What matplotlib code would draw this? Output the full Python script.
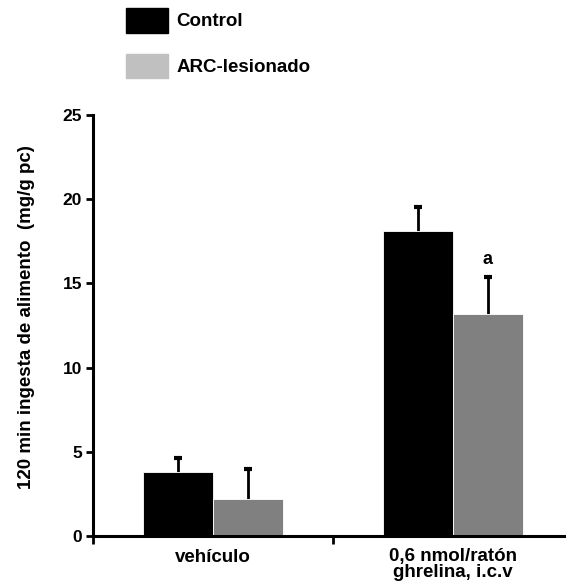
import matplotlib
matplotlib.use("Agg")
from matplotlib import pyplot as plt, patches
import numpy as np

plt.rcParams['font.family'] = ['Liberation Sans', 'DejaVu Sans']
plt.rcParams['font.weight'] = 'bold'

# data
groups = ["vehículo", "0,6 nmol/ratón\nghrelina, i.c.v"]
series = ["Control", "ARC-lesionado"]
control = [3.78, 18.11]
control_err = [0.86, 1.42]
arc = [2.21, 13.21]
arc_err = [1.75, 2.17]
marks = ["", "a"]

fig = plt.figure(figsize=(5.66, 5.87), dpi=100)
ax = fig.add_axes([93/566, 51/587, 480/566, 421/587])

centers = np.arange(len(groups)) + 0.5
w = 0.29

ax.bar(centers - w/2, control, width=w, color="black", edgecolor="white", linewidth=0.6, zorder=2)
ax.bar(centers + w/2, arc, width=w, color="#808080", edgecolor="white", linewidth=0.6, zorder=2)

# upper error bars only: hide the lower caps
for xs, vals, errs in [(centers - w/2, control, control_err), (centers + w/2, arc, arc_err)]:
    eb = ax.errorbar(xs, vals, yerr=[np.zeros(len(vals)), errs],
                     fmt="none", ecolor="black", elinewidth=2, capsize=3, capthick=3, zorder=1)
    eb[1][0].set_visible(False)

for i in range(len(groups)):
    if marks[i]:
        ax.text(centers[i] + w/2, arc[i] + arc_err[i] + 0.55, marks[i],
                ha="center", va="bottom", fontsize=13, fontweight="bold")

ax.set_xlim(0, 2)
ax.set_ylim(0, 25)
ax.set_yticks([0, 5, 10, 15, 20, 25])
ax.set_xticks([0, 1, 2])
ax.set_xticklabels([])
ax.set_xticks(centers, minor=True)
ax.set_xticklabels(groups, minor=True, fontsize=13.5, fontweight="bold", linespacing=0.92)
ax.tick_params(axis="x", which="minor", length=0, pad=9)
ax.tick_params(axis="x", which="major", length=6, width=2, direction="out")
ax.tick_params(axis="y", length=5, width=2, labelsize=12.5, pad=3)
for t in ax.get_yticklabels():
    t.set_fontweight("bold")

ax.spines['right'].set_color('none')
ax.spines['top'].set_color('none')
ax.spines['left'].set_linewidth(2.2)
ax.spines['bottom'].set_linewidth(2.2)

ax.set_ylabel("120 min ingesta de alimento  (mg/g pc)", fontsize=13.5, fontweight="bold")
ax.yaxis.set_label_coords(-0.121, 0.52)

handles = [patches.Patch(color="black"), patches.Patch(color="#c0c0c0")]
fig.legend(handles, series, loc="upper left", bbox_to_anchor=(126/566, 1 - 8/587),
           frameon=False, borderpad=0, borderaxespad=0,
           handlelength=2.24, handleheight=1.64, handletextpad=0.46, labelspacing=1.12,
           prop={'weight': 'bold', 'size': 13.5})

fig.savefig("out.png", dpi=100)
